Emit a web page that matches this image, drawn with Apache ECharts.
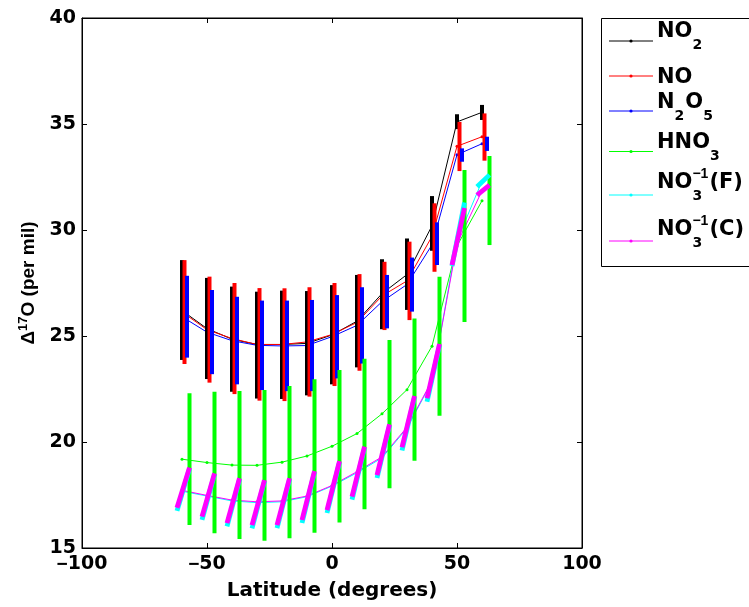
<!DOCTYPE html>
<html><head><meta charset="utf-8">
<script src="https://cdn.jsdelivr.net/npm/echarts@6/dist/echarts.min.js"></script>
<style>html,body{margin:0;padding:0;background:#fff}#c{width:749px;height:607px}</style>
</head><body><div id="c"></div>
<script>
// ---------- data ----------
const latitude = [-60,-50,-40,-30,-20,-10,0,10,20,30,40,50,60];

const no2     = [26.2, 25.35, 24.85, 24.6, 24.6, 24.65, 25.05, 25.7, 27.0, 27.9, 30.2, 35.1, 35.55];
const no2Low  = [23.87, 22.97, 22.37, 22.05, 22.03, 22.2, 22.72, 23.52, 25.32, 26.23, 29.02, 34.76, 35.19];
const no2High = [28.58, 27.74, 27.33, 27.09, 27.14, 27.12, 27.4, 27.88, 28.62, 29.6, 31.6, 35.46, 35.9];

const no     = [26.13, 25.3, 24.88, 24.6, 24.6, 24.72, 25.07, 25.64, 26.89, 27.6, 29.7, 33.95, 34.4];
const noLow  = [23.68, 22.8, 22.26, 21.95, 21.93, 22.14, 22.64, 23.36, 25.28, 25.75, 28.03, 32.78, 33.27];
const noHigh = [28.58, 27.8, 27.5, 27.26, 27.25, 27.3, 27.5, 27.92, 28.5, 29.45, 31.26, 35.1, 35.5];

const n2o5     = [25.91, 25.18, 24.78, 24.56, 24.53, 24.55, 24.97, 25.5, 26.62, 27.43, 29.3, 33.55, 34.07];
const n2o5Low  = [23.98, 23.2, 22.72, 22.45, 22.4, 22.4, 23.0, 23.7, 25.36, 26.15, 28.35, 33.22, 33.73];
const n2o5High = [27.84, 27.17, 26.85, 26.67, 26.67, 26.7, 26.93, 27.3, 27.88, 28.7, 30.36, 33.85, 34.4];

const hno3     = [19.19, 19.03, 18.91, 18.9, 19.05, 19.34, 19.8, 20.4, 21.33, 22.47, 24.52, 29.25, 31.38];
const hno3Low  = [16.08, 15.69, 15.42, 15.34, 15.46, 15.72, 16.2, 16.83, 17.82, 19.12, 21.24, 25.66, 29.29];
const hno3High = [22.3, 22.37, 22.4, 22.45, 22.64, 22.96, 23.4, 23.93, 24.81, 25.83, 27.8, 32.83, 33.49];

const no3f     = [17.68, 17.45, 17.22, 17.14, 17.18, 17.42, 17.92, 18.55, 19.25, 20.65, 22.85, 29.5, 32.3];
const no3fLow  = [16.75, 16.33, 16.02, 15.93, 15.94, 16.18, 16.65, 17.28, 18.3, 19.6, 21.9, 28.3, 32.04];
const no3fHigh = [18.74, 18.47, 18.24, 18.15, 18.24, 18.58, 19.05, 19.73, 20.78, 22.12, 24.57, 31.3, 32.6];

const no3c     = [17.72, 17.48, 17.26, 17.18, 17.22, 17.45, 17.95, 18.6, 19.3, 20.7, 22.9, 29.35, 31.85];
const no3cLow  = [16.9, 16.48, 16.17, 16.08, 16.08, 16.32, 16.79, 17.42, 18.44, 19.75, 22.06, 28.35, 31.65];
const no3cHigh = [18.79, 18.52, 18.29, 18.2, 18.29, 18.63, 19.1, 19.78, 20.83, 22.17, 24.62, 31.04, 32.12];

const xTicks = [-100, -50, 0, 50, 100];
const yTicks = [15, 20, 25, 30, 35, 40];

// ---------- styling / helpers ----------
const C = {no2:'#000000', no:'#ff0000', n2o5:'#0000ff', hno3:'#00ff00', no3f:'#00ffff', no3c:'#ff00ff'};
const DV = 'DejaVu Sans', LB = 'Liberation Sans';

function lineSeries(name, color, vals) {
  return {type:'line', name, data: latitude.map((l,i)=>[l, vals[i]]),
    symbol:'circle', symbolSize:3, showSymbol:true,
    itemStyle:{color}, lineStyle:{color, width:1}, z:2, silent:true, animation:false};
}
function vbar(name, color, low, high, dx, w) {
  return {type:'custom', name, silent:true, animation:false, z:3,
    data: latitude.map((l,i)=>[l+dx, low[i], high[i]]),
    encode:{x:0, y:[1,2]},
    renderItem:(p, api)=>{
      const a = api.coord([api.value(0), api.value(1)]);
      const b = api.coord([api.value(0), api.value(2)]);
      return {type:'line', shape:{x1:a[0],y1:a[1],x2:b[0],y2:b[1]}, style:{stroke:color, lineWidth:w, lineCap:'butt'}};
    }};
}
function sbar(name, color, low, high, dx0, dx1, w) {
  return {type:'custom', name, silent:true, animation:false, z:3,
    data: latitude.map((l,i)=>[l+dx0, low[i], l+dx1, high[i]]),
    encode:{x:[0,2], y:[1,3]},
    renderItem:(p, api)=>{
      const a = api.coord([api.value(0), api.value(1)]);
      const b = api.coord([api.value(2), api.value(3)]);
      return {type:'line', shape:{x1:a[0],y1:a[1],x2:b[0],y2:b[1]}, style:{stroke:color, lineWidth:w, lineCap:'butt'}};
    }};
}

// text measurement for legend layout
const mctx = document.createElement('canvas').getContext('2d');
function tw(t, size, fam) { mctx.font = 'bold ' + size + 'px "' + fam + '"'; return mctx.measureText(t).width; }
function txt(t, x, baseline, size, fam) {
  return {type:'text', x: x, y: baseline - 0.346*size, z:12,
    style:{text:t, font:'bold ' + size + 'px "' + fam + '"', fill:'#000', align:'left', verticalAlign:'middle'}};
}

const legendItems = [
  {color:C.no2,  parts:['NO', {sub:'2'}]},
  {color:C.no,   parts:['NO']},
  {color:C.n2o5, parts:['N', {sub:'2'}, 'O', {sub:'5'}]},
  {color:C.hno3, parts:['HNO', {sub:'3'}]},
  {color:C.no3f, parts:['NO', {sub:'3', sup:'\u22121'}, '(F)']},
  {color:C.no3c, parts:['NO', {sub:'3', sup:'\u22121'}, '(C)']}
];
const legendLineY = [41, 76, 111, 151.5, 195, 241];
const legendBase  = [38.5, 85, 110, 150, 190, 236.5];

function buildLegend() {
  const els = [];
  els.push({type:'rect', z:10, shape:{x:601.5, y:18.5, width:200, height:248}, style:{fill:'#fff', stroke:'#000', lineWidth:1}});
  legendItems.forEach((it, i) => {
    const ly = legendLineY[i];
    els.push({type:'line', z:11, shape:{x1:609, y1:ly, x2:653, y2:ly}, style:{stroke:it.color, lineWidth:1}});
    els.push({type:'circle', z:11, shape:{cx:631, cy:ly, r:1.6}, style:{fill:it.color}});
    let x = 657; const base = legendBase[i];
    it.parts.forEach(p => {
      if (typeof p === 'string') {
        els.push(txt(p, x, base, 21, DV)); x += tw(p, 21, DV);
      } else {
        let w = 0;
        if (p.sub) { els.push(txt(p.sub, x, base + 11.5, 14, DV)); w = Math.max(w, tw(p.sub, 14, DV)); }
        if (p.sup) { els.push(txt(p.sup, x, base - 11, 14, LB)); w = Math.max(w, tw(p.sup, 14, LB)); }
        x += w + 1;
      }
    });
  });
  return els;
}

const tickFmt = v => v < 0 ? '{m|\u2212}' + Math.abs(v) : String(v);
const labelStyle = {color:'#000', fontFamily:DV, fontWeight:'bold', fontSize:19,
  rich:{m:{fontFamily:LB, fontWeight:'bold', fontSize:19, color:'#000'}}};

const chart = echarts.init(document.getElementById('c'), null, {renderer:'canvas'});
chart.setOption({
  animation:false,
  backgroundColor:'#fff',
  grid:{left:82, right:167, top:18, bottom:59, show:true, borderColor:'#000', borderWidth:1, backgroundColor:'transparent', outerBoundsMode:'none', containLabel:false},
  xAxis:[
    {type:'value', min:xTicks[0], max:xTicks[xTicks.length-1], interval:50, position:'bottom',
     axisLine:{show:true, onZero:false, lineStyle:{color:'#000', width:1}},
     axisTick:{show:true, inside:true, length:5, lineStyle:{color:'#000'}},
     axisLabel:Object.assign({margin:7, formatter:tickFmt}, labelStyle),
     splitLine:{show:false},
     name:'Latitude (degrees)', nameLocation:'middle', nameGap:33,
     nameTextStyle:{color:'#000', fontFamily:DV, fontWeight:'bold', fontSize:20}},
    {type:'value', min:xTicks[0], max:xTicks[xTicks.length-1], interval:50, position:'top',
     axisLine:{show:true, onZero:false, lineStyle:{color:'#000'}},
     axisTick:{show:true, inside:true, length:5, lineStyle:{color:'#000'}},
     axisLabel:{show:false}, splitLine:{show:false}}
  ],
  yAxis:[
    {type:'value', min:yTicks[0], max:yTicks[yTicks.length-1], interval:5, position:'left',
     axisLine:{show:true, onZero:false, lineStyle:{color:'#000', width:1}},
     axisTick:{show:true, inside:true, length:5, lineStyle:{color:'#000'}},
     axisLabel:Object.assign({margin:6, formatter:tickFmt}, labelStyle),
     splitLine:{show:false},
     name:'{a|\u0394}{b|17}{a|O (per mil)}', nameLocation:'middle', nameRotate:90, nameGap:32,
     nameTextStyle:{color:'#000', fontFamily:LB, fontWeight:'bold', fontSize:19,
       rich:{a:{fontFamily:LB, fontWeight:'bold', fontSize:19, lineHeight:24, color:'#000'},
             b:{fontFamily:LB, fontWeight:'bold', fontSize:13, lineHeight:14, verticalAlign:'top', color:'#000'}}}},
    {type:'value', min:yTicks[0], max:yTicks[yTicks.length-1], interval:5, position:'right',
     axisLine:{show:true, onZero:false, lineStyle:{color:'#000'}},
     axisTick:{show:true, inside:true, length:5, lineStyle:{color:'#000'}},
     axisLabel:{show:false}, splitLine:{show:false}}
  ],
  series:[
    lineSeries('NO2', C.no2, no2),
    lineSeries('NO', C.no, no),
    lineSeries('N2O5', C.n2o5, n2o5),
    lineSeries('HNO3', C.hno3, hno3),
    lineSeries('NO3-1(F)', C.no3f, no3f),
    lineSeries('NO3-1(C)', C.no3c, no3c),
    vbar('NO2 range', C.no2, no2Low, no2High, 0, 4),
    vbar('NO range', C.no, noLow, noHigh, 1, 4),
    vbar('N2O5 range', C.n2o5, n2o5Low, n2o5High, 2, 4),
    vbar('HNO3 range', C.hno3, hno3Low, hno3High, 3, 4),
    sbar('NO3-1(F) range', C.no3f, no3fLow, no3fHigh, -2, 3, 4.8),
    sbar('NO3-1(C) range', C.no3c, no3cLow, no3cHigh, -2, 3, 4.8)
  ],
  graphic: buildLegend()
});
</script></body></html>
